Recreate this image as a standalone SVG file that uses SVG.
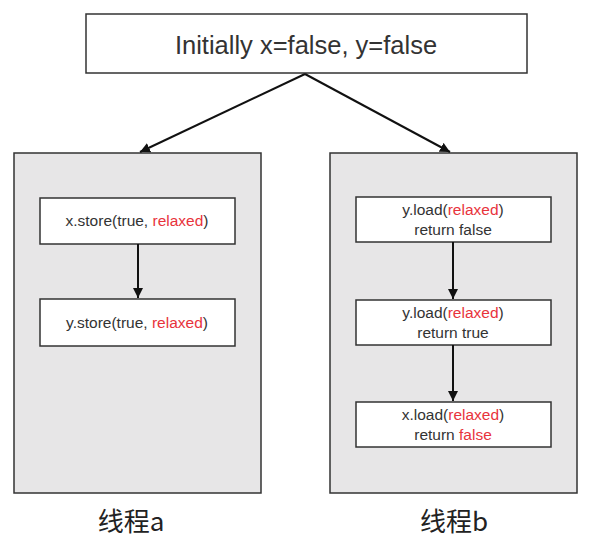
<svg xmlns="http://www.w3.org/2000/svg" width="593" height="549" viewBox="0 0 593 549">
<style>
.box{fill:#fff;stroke:#333;stroke-width:1.5}
.panel{fill:#e7e6e7;stroke:#333;stroke-width:1.5}
.t{font-family:"Liberation Sans","Noto Sans CJK SC",sans-serif;fill:#333;text-anchor:middle}
.s{font-size:15.5px}
.r{fill:#e8333c}
.cap{font-family:"Noto Sans CJK SC",sans-serif;font-size:26px;fill:#222;text-anchor:middle}
.c{stroke:#111;stroke-width:2;fill:none;marker-end:url(#ah)}
</style>
<defs>
<marker id="ah" viewBox="0 0 10 10" refX="10" refY="5" markerWidth="5" markerHeight="5" orient="auto" markerUnits="strokeWidth">
<path d="M0,0 L10,5 L0,10 z" fill="#111"/>
</marker>
</defs>
<rect width="593" height="549" fill="#fff"/>
<g id="init">
<rect class="box" x="86" y="14" width="441" height="59"/>
<text class="t" x="306" y="54" font-size="25.5">Initially x=false, y=false</text>
</g>
<g id="threadA">
<rect class="panel" x="14" y="153" width="247" height="340"/>
<text class="cap" x="131" y="531">线程a</text>
</g>
<g id="threadB">
<rect class="panel" x="330" y="153" width="247" height="340"/>
<text class="cap" x="454" y="531">线程b</text>
</g>
<g id="a1">
<rect class="box" x="40" y="198" width="195" height="46"/>
<text class="t s" x="137" y="226">x.store(true, <tspan class="r">relaxed</tspan>)</text>
</g>
<g id="a2">
<rect class="box" x="40" y="299" width="195" height="47"/>
<text class="t s" x="137" y="328">y.store(true, <tspan class="r">relaxed</tspan>)</text>
</g>
<g id="b1">
<rect class="box" x="356" y="197" width="195" height="45"/>
<text class="t s" x="453" y="215">y.load(<tspan class="r">relaxed</tspan>)</text>
<text class="t s" x="453" y="235">return false</text>
</g>
<g id="b2">
<rect class="box" x="356" y="300" width="195" height="45"/>
<text class="t s" x="453" y="318">y.load(<tspan class="r">relaxed</tspan>)</text>
<text class="t s" x="453" y="338">return true</text>
</g>
<g id="b3">
<rect class="box" x="356" y="402" width="195" height="45"/>
<text class="t s" x="453" y="420">x.load(<tspan class="r">relaxed</tspan>)</text>
<text class="t s" x="453" y="440">return <tspan class="r">false</tspan></text>
</g>
<g id="connectors">
<line class="c" x1="305" y1="74" x2="140" y2="152"/>
<line class="c" x1="305" y1="74" x2="450" y2="152"/>
<line class="c" x1="138" y1="244" x2="138" y2="298"/>
<line class="c" x1="453" y1="242" x2="453" y2="299"/>
<line class="c" x1="453" y1="345" x2="453" y2="401"/>
</g>
</svg>
